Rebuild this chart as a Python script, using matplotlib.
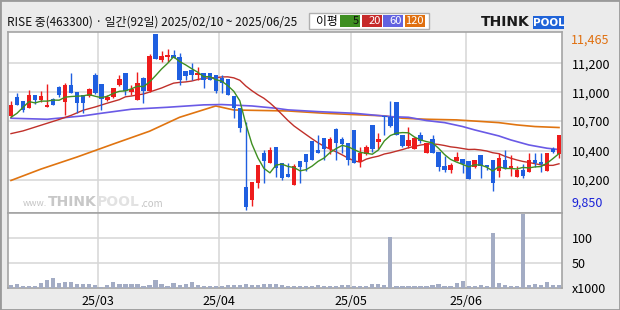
import numpy as np
import pandas as pd
import matplotlib
matplotlib.use('Agg')
import matplotlib.pyplot as plt
from matplotlib.patches import Rectangle

plt.rcParams['font.family'] = ['Noto Sans CJK KR', 'DejaVu Sans']

# ----------------------------------------------------- DATA (92 trading days, 2025/02/10 ~ 2025/06/25)
opens = [10713, 10890, 10853, 10789, 10905, 10859, 10798, 10866, 10976, 10844,
         10997, 10933, 10905, 10896, 11089, 11006, 10859, 10884, 10997, 11104,
         10933, 10859, 11058, 10942, 11465, 11227, 11257, 11272, 11251, 11129,
         11135, 11089, 11104, 11104, 11089, 11058, 11049, 10896, 10783, 10058,
         9941, 10101, 10370, 10284, 10425, 10284, 10180, 10079, 10299, 10364,
         10483, 10400, 10514, 10410, 10593, 10501, 10468, 10584, 10293, 10364,
         10630, 10477, 10713, 10706, 10841, 10538, 10437, 10410, 10538, 10376,
         10501, 10382, 10254, 10217, 10299, 10318, 10299, 10247, 10354, 10263,
         10309, 10211, 10309, 10238, 10149, 10217, 10202, 10309, 10287, 10211,
         10410, 10361]
highs = [10850, 10927, 10853, 10951, 10905, 10945, 11006, 10875, 10988, 11019,
         11110, 10933, 10905, 10967, 11104, 11006, 10905, 10967, 11089, 11104,
         10997, 11113, 11074, 11282, 11465, 11312, 11324, 11318, 11294, 11129,
         11202, 11159, 11104, 11104, 11089, 11089, 11049, 10896, 10783, 10660,
         10110, 10263, 10400, 10431, 10425, 10284, 10278, 10269, 10299, 10364,
         10483, 10538, 10514, 10517, 10605, 10517, 10468, 10584, 10425, 10446,
         10630, 10553, 10713, 10850, 10841, 10538, 10608, 10523, 10563, 10468,
         10538, 10382, 10345, 10278, 10385, 10318, 10299, 10309, 10354, 10263,
         10309, 10376, 10400, 10354, 10254, 10269, 10370, 10370, 10370, 10370,
         10431, 10538]
lows = [10700, 10814, 10752, 10789, 10823, 10844, 10792, 10814, 10890, 10722,
        10921, 10737, 10737, 10890, 10915, 10768, 10850, 10875, 10991, 10905,
        10905, 10859, 10835, 10936, 11233, 11211, 11211, 11242, 10997, 11043,
        11043, 11043, 10967, 11043, 10927, 10927, 10905, 10691, 10569, 9850,
        9886, 10049, 10101, 10284, 10156, 10125, 10156, 10079, 10101, 10211,
        10309, 10370, 10309, 10361, 10309, 10376, 10263, 10278, 10247, 10354,
        10385, 10410, 10538, 10615, 10538, 10431, 10416, 10410, 10462, 10370,
        10370, 10211, 10202, 10192, 10299, 10186, 10134, 10232, 10146, 10217,
        10027, 10156, 10223, 10162, 10149, 10146, 10202, 10247, 10202, 10211,
        10370, 10330]
closes = [10814, 10814, 10768, 10905, 10859, 10896, 10814, 10814, 10902, 10997,
          10927, 10829, 10829, 10957, 10921, 10866, 10890, 10967, 11049, 10942,
          10957, 11012, 10945, 11263, 11233, 11263, 11272, 11248, 11043, 11080,
          11089, 11110, 11043, 11043, 10942, 11019, 10905, 10783, 10605, 9880,
          10104, 10263, 10302, 10400, 10238, 10146, 10156, 10254, 10247, 10293,
          10309, 10376, 10407, 10504, 10468, 10455, 10309, 10278, 10376, 10431,
          10410, 10501, 10700, 10621, 10538, 10437, 10492, 10507, 10486, 10462,
          10376, 10247, 10217, 10263, 10339, 10272, 10134, 10309, 10254, 10241,
          10094, 10330, 10232, 10254, 10217, 10165, 10309, 10278, 10269, 10370,
          10379, 10538]
# volume, x1000 shares
volumes = [5.3, 7.3, 3.3, 3.3, 3.3, 8.7, 15.3, 19.3, 10.0, 11.3,
           11.3, 7.3, 7.3, 7.3, 4.7, 2.0, 4.7, 10.7, 6.7, 6.7,
           6.7, 6.7, 3.3, 4.7, 15.3, 7.3, 3.3, 9.3, 4.7, 7.3,
           10.7, 4.7, 3.3, 3.3, 3.3, 4.0, 4.7, 4.7, 5.3, 6.7,
           6.0, 5.3, 6.7, 6.7, 6.7, 5.3, 3.3, 3.3, 3.3, 3.3,
           3.3, 4.7, 3.3, 3.3, 3.3, 4.7, 4.7, 3.3, 3.3, 3.3,
           6.7, 6.7, 4.7, 101.0, 3.3, 3.3, 3.3, 3.3, 3.3, 3.3,
           5.3, 7.3, 3.3, 3.3, 9.3, 13.3, 3.3, 3.3, 5.3, 3.3,
           109.0, 8.7, 5.3, 3.3, 3.3, 147.0, 5.3, 7.3, 5.3, 11.3,
           5.3, 5.3]

# moving averages: early part (needs earlier history)
ma5_head = [10700, 10737, 10792, 10844]
ma20_head_x = [0, 2, 4, 6, 8, 10, 12, 14, 16, 18]
ma20_head = [10550, 10575, 10610, 10645, 10680, 10718, 10765, 10795, 10830, 10862]
ma60_x = [0, 6, 12, 15, 20, 26, 32, 35, 40, 44, 46, 51, 57, 63, 66, 69, 72, 75, 77, 81, 83, 86, 89, 91]
ma60 = [10691, 10682, 10713, 10737, 10774, 10792, 10814, 10817, 10804, 10783, 10768, 10752,
        10737, 10706, 10700, 10670, 10651, 10615, 10584, 10529, 10492, 10446, 10416, 10404]
ma120_x = [0, 5, 11, 17, 23, 28, 31, 34, 37, 46, 52, 58, 62, 65, 69, 74, 81, 84, 87, 91]
ma120 = [10120, 10225, 10336, 10455, 10572, 10700, 10752, 10804, 10767, 10758, 10737, 10722,
         10713, 10691, 10682, 10676, 10651, 10630, 10615, 10606]

month_idx = [15, 35, 57, 76]
month_lbl = ['25/03', '25/04', '25/05', '25/06']
price_grid = [11196, 10930, 10666, 10391, 10125]
price_lbl = ['11,200', '11,000', '10,700', '10,400', '10,200']
vol_grid = [0, 50, 100]
vol_lbl = ['x1000', '50', '100']

title = 'RISE 중(463300) · 일간(92일) 2025/02/10 ~ 2025/06/25'

RED = '#ee1c1c'
BLUE = '#1f5fe0'
C5, C20, C60, C120 = '#3f8f22', '#c0302a', '#6a5ae6', '#e07410'
GRID = '#d6d6d6'
EDGE = '#a4a4a4'

W, H = 620, 310
def fx(x):
    return x / W
def fy(y):
    return 1 - y / H

# ----------------------------------------------------- FIGURE
fig = plt.figure(figsize=(6.2, 3.1), dpi=100, facecolor='#ebebeb')
fig.patches.append(Rectangle((0, 0), 1, 1, transform=fig.transFigure, fill=False,
                             edgecolor='#9a9a9a', lw=2))

ax = fig.add_axes([fx(8), fy(212.7), fx(562) - fx(8), fy(32) - fy(212.7)])
axv = fig.add_axes([fx(8), fy(287.7), fx(562) - fx(8), fy(212.7) - fy(287.7)], sharex=ax)

n = len(closes)
x = np.arange(n)
o = np.array(opens); c = np.array(closes); h = np.array(highs); l = np.array(lows)
up = c >= o
cols = np.where(up, RED, BLUE)

# candles
ax.vlines(x, l, h, colors=cols, lw=1.0, zorder=3)
body = np.maximum(np.abs(c - o), 9)
ax.bar(x, body, bottom=np.minimum(o, c), width=0.74, color=cols, lw=0, zorder=4)

# moving averages
s = pd.Series(closes)
ma5 = s.rolling(5).mean().to_numpy()
ma5[:4] = ma5_head
ma20 = s.rolling(20).mean().to_numpy()
ma20_x = ma20_head_x + list(range(19, n))
ma20_y = ma20_head + list(ma20[19:])
ax.plot(ma120_x, ma120, color=C120, lw=1.2, zorder=2)
ax.plot(ma60_x, ma60, color=C60, lw=1.2, zorder=2)
ax.plot(ma20_x, ma20_y, color=C20, lw=1.0, zorder=2)
ax.plot(x, ma5, color=C5, lw=1.0, zorder=5)

ax.set_ylim(9824, 11483)
ax.set_xlim(-0.5, n - 0.5)

# volume
axv.bar(x, volumes, width=0.7, color='#a3acc4', lw=0, zorder=3)
axv.set_ylim(0, 150)

for a in (ax, axv):
    a.set_facecolor('white')
    for sp in a.spines.values():
        sp.set_color(EDGE)
        sp.set_linewidth(1.2)
    for m in month_idx:
        a.axvline(m - 0.5, color=GRID, lw=1.1, zorder=1)
    a.yaxis.tick_right()
    a.tick_params(axis='y', length=0, pad=7, labelsize=9)
    a.tick_params(axis='x', length=0)

for g in price_grid:
    ax.axhline(g, color=GRID, lw=1.1, zorder=1)
ax.set_yticks(price_grid)
ax.set_yticklabels(price_lbl)
ax.tick_params(axis='x', labelbottom=False)

for g in vol_grid[1:]:
    axv.axhline(g, color=GRID, lw=1.1, zorder=1)
axv.set_yticks(vol_grid)
axv.set_yticklabels(vol_lbl)
axv.set_xticks([m - 0.5 for m in month_idx])
axv.set_xticklabels(month_lbl, fontsize=9)
axv.tick_params(axis='x', pad=5)

# max / min labels
tr = ax.get_yaxis_transform()
ax.text(1.0 + 9 / 554, max(highs), '{:,}'.format(max(highs)), transform=tr, color='#e07010',
        fontsize=9, va='top', ha='left', clip_on=False)
ax.text(1.0 + 9 / 554, min(lows), '{:,}'.format(min(lows)), transform=tr, color='#1a22d8',
        fontsize=9, va='bottom', ha='left', clip_on=False)

# watermark
fig.text(fx(23), fy(204), 'www.', fontsize=6.5, color='#c4c4c4', va='center')
fig.text(fx(48), fy(202), 'THINK', fontsize=10, color='#c8c8c8', weight='bold',
         family='DejaVu Sans', va='center')
fig.text(fx(97), fy(202), 'POOL', fontsize=10, color='#e2e2e2', weight='bold',
         family='DejaVu Sans', va='center')
fig.text(fx(140), fy(204), '.com', fontsize=7, color='#c4c4c4', va='center')

# ----------------------------------------------------- HEADER
fig.text(fx(7), fy(22), title, fontsize=8.5, va='center', ha='left', color='#111111')

fig.patches.append(Rectangle((fx(309), fy(29)), fx(429) - fx(309), fy(13) - fy(29),
                             transform=fig.transFigure, facecolor='white', edgecolor='#b0b0b0', lw=1))
fig.text(fx(316), fy(21), '이평', fontsize=8.5, va='center', ha='left')
for x0, col, lab, tc in [(340, C5, '5', '#111111'), (362, '#c62a2a', '20', 'white'),
                         (383, '#6262e0', '60', 'white'), (405, '#e07010', '120', 'white')]:
    fig.patches.append(Rectangle((fx(x0), fy(27)), fx(19.5), fy(15) - fy(27),
                                 transform=fig.transFigure, facecolor=col, lw=0))
    fig.text(fx(x0 + 18.5), fy(21), lab, fontsize=8, color=tc, va='center', ha='right')

# logo
fig.text(fx(481), fy(22.5), 'THINK', fontsize=10, weight='bold', family='DejaVu Sans',
         color='#1a1a1a', va='center', ha='left')
fig.patches.append(Rectangle((fx(533), fy(29)), fx(564) - fx(533), fy(16) - fy(29),
                             transform=fig.transFigure, facecolor='#1f63d8', lw=0))
fig.text(fx(548.5), fy(22.5), 'POOL', fontsize=7.5, weight='bold', family='DejaVu Sans',
         color='white', va='center', ha='center')

fig.savefig('out.png', dpi=100, facecolor=fig.get_facecolor())
